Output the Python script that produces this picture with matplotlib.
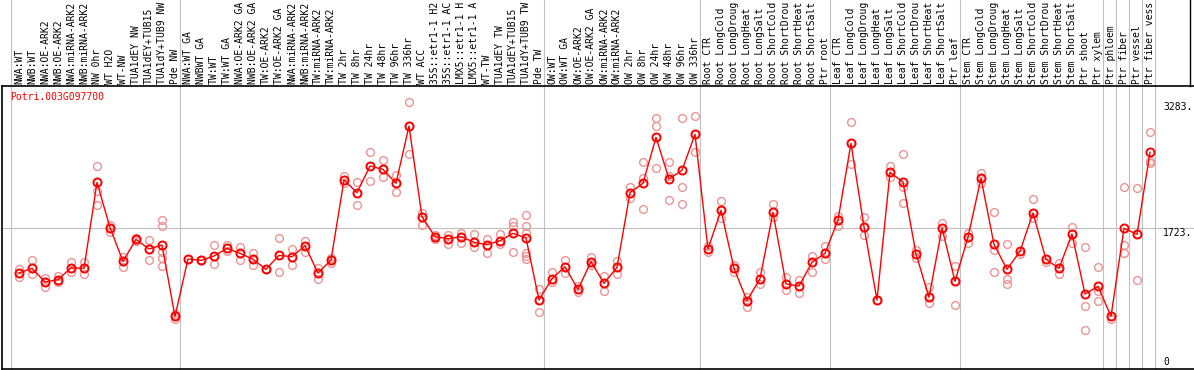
import matplotlib
matplotlib.use('Agg')
import matplotlib.pyplot as plt
from matplotlib.transforms import blended_transform_factory
from matplotlib.lines import Line2D

W, H = 1194, 370
plt.rcParams.update({'font.family': 'DejaVu Sans Mono', 'font.size': 7})

gene = 'Potri.003G097700'

labels = [
    'NWA:WT', 'NWB:WT', 'NWA:OE-ARK2', 'NWB:OE-ARK2', 'NWA:miRNA-ARK2', 'NWB:miRNA-ARK2',
    'NW 0hr', 'WT H2O', 'WT-NW', 'TUA1dEY NW', 'TUA1dEY+TUB15', 'TUA1dY+TUB9 NW', 'Pde NW',
    'NWA:WT GA', 'NWBWT GA', 'TW:WT', 'TW:WT GA', 'NWA:OE-ARK2 GA', 'NWB:OE-ARK2 GA',
    'TW:OE-ARK2', 'TW:OE-ARK2 GA', 'NWA:miRNA-ARK2', 'NWB:miRNA-ARK2', 'TW:miRNA-ARK2',
    'TW:miRNA-ARK2', 'TW 2hr', 'TW 8hr', 'TW 24hr', 'TW 48hr', 'TW 96hr', 'TW 336hr',
    'WT ACC', '35S::etr1-1 H2', '35S::etr1-1 AC', 'LMX5::etr1-1 H', 'LMX5::etr1-1 A',
    'WT-TW', 'TUA1dEY TW', 'TUA1dEY+TUB15', 'TUA1dY+TUB9 TW', 'Pde TW',
    'OW:WT', 'OW:WT GA', 'OW:OE-ARK2', 'OW:OE-ARK2 GA', 'OW:miRNA-ARK2', 'OW:miRNA-ARK2',
    'OW 2hr', 'OW 8hr', 'OW 24hr', 'OW 48hr', 'OW 96hr', 'OW 336hr',
    'Root CTR', 'Root LongCold', 'Root LongDroug', 'Root LongHeat', 'Root LongSalt',
    'Root ShortCold', 'Root ShortDrou', 'Root ShortHeat', 'Root ShortSalt', 'Ptr root',
    'Leaf CTR', 'Leaf LongCold', 'Leaf LongDroug', 'Leaf LongHeat', 'Leaf LongSalt',
    'Leaf ShortCold', 'Leaf ShortDrou', 'Leaf ShortHeat', 'Leaf ShortSalt', 'Ptr leaf',
    'Stem CTR', 'Stem LongCold', 'Stem LongDroug', 'Stem LongHeat', 'Stem LongSalt',
    'Stem ShortCold', 'Stem ShortDrou', 'Stem ShortHeat', 'Stem ShortSalt', 'Ptr shoot',
    'Ptr xylem', 'Ptr phloem', 'Ptr fiber', 'Ptr vessel', 'Ptr fiber vess',
]

means = [
    1165, 1223, 1054, 1082, 1231, 1223, 2289, 1727, 1310, 1582, 1463, 1512, 628,
    1339, 1322, 1376, 1471, 1409, 1335, 1211, 1384, 1367, 1504, 1165, 1326,
    2318, 2161, 2492, 2450, 2277, 2987, 1863, 1615, 1590, 1615, 1546, 1516, 1566, 1657, 1599, 830,
    1095, 1243, 963, 1306, 1037, 1236, 2161, 2277, 2847, 2331, 2438, 2885,
    1463, 1942, 1223, 822, 1095, 1917, 1029, 1004, 1298, 1409,
    1822, 2773, 1739, 830, 2413, 2293, 1401, 864, 1723, 1062,
    1611, 2339, 1521, 1211, 1434, 1909, 1335, 1223, 1649, 905,
    1000, 628, 1719, 1645, 2661,
]

replicates = [
    [1215, 1165, 1112], [1326, 1223, 1149], [1107, 1054, 988], [1124, 1082, 1050],
    [1298, 1231, 1178], [1298, 1223, 1149], [2496, 2180, 2004], [1760, 1727, 1677],
    [1367, 1310, 1243], [1566, 1582, 1600], [1574, 1463, 1322], [1822, 1751, 1429, 1355, 1248],
    [657, 628, 599], [1339, 1339], [1322, 1322], [1508, 1376, 1277], [1512, 1471, 1438],
    [1492, 1409, 1326], [1417, 1335, 1260], [1211, 1211], [1595, 1384, 1174],
    [1463, 1367, 1264], [1566, 1504, 1421], [1223, 1165, 1095], [1355, 1326, 1285],
    [2372, 2318, 2285], [2289, 2161, 2004], [2661, 2492, 2302], [2562, 2450, 2351],
    [2380, 2277, 2173], [3283, 2987, 2640], [1913, 1863, 1760], [1590, 1615, 1640],
    [1633, 1590, 1525], [1665, 1615, 1533], [1645, 1546, 1484], [1587, 1516, 1417],
    [1645, 1566, 1525], [1797, 1748, 1429], [1880, 1748, 1665, 1417, 1380, 1339],
    [970, 830, 678], [1174, 1095, 1054], [1322, 1243, 1169], [1004, 963, 926],
    [1367, 1306, 1264], [1128, 1037, 938], [1310, 1236, 1149], [2235, 2161, 2099],
    [2537, 2339, 1959], [3083, 2992, 2463], [2537, 2372, 2066], [3083, 2227, 2017],
    [3108, 2885, 2661], [1421, 1463, 1500], [2054, 1942, 1847], [1264, 1223, 1182],
    [864, 822, 740], [1178, 1095, 1029], [2017, 1917, 1863], [1112, 1029, 955],
    [1078, 1004, 921], [1380, 1298, 1174], [1500, 1409, 1343], [1876, 1822, 1748],
    [3033, 2773, 2516], [1859, 1739, 1636], [830, 830], [2492, 2413, 2351],
    [2640, 2227, 2029], [1450, 1401, 1347], [988, 864, 790], [1789, 1723, 1628],
    [1252, 1062, 769], [1657, 1611, 1533], [2400, 2339, 2277], [1917, 1454, 1178],
    [1525, 1095, 1033], [1434, 1401], [2083, 1909, 1851], [1335, 1306],
    [1293, 1223, 1157], [1735, 1649, 1537], [1484, 756, 459], [1240, 946, 818],
    [628, 599], [2227, 1512, 1409], [2215, 1645, 1074], [2909, 2557, 2525],
]

# group starts (index of first sample in each block) for the vertical separators
group_starts = [0, 13, 41, 53, 63, 73, 84, 85, 86, 87, 88]
ref_values = [3283, 1723, 0]

# ---- layout in pixels ----
X0, DX = 19, 13          # pixel x of first sample, spacing
AX_TOP, AX_BOT = 86, 368.5
Y0, SCALE = 367, 0.08067  # pixel y of value 0, px per unit

fig = plt.figure(figsize=(W / 100, H / 100), dpi=100)
ax = fig.add_axes([1.5 / W, 1 - AX_BOT / H, 1 - 1.5 / W, (AX_BOT - AX_TOP) / H])
ax.patch.set_visible(False)
ax.set_xlim((1.5 - X0) / DX, (W - X0) / DX)
ax.set_ylim((Y0 - AX_BOT) / SCALE, (Y0 - AX_TOP) / SCALE)
ax.set_xticks([])
ax.set_yticks([])
ax.spines['right'].set_visible(False)
for s in ['left', 'bottom', 'top']:
    ax.spines[s].set_linewidth(1.2)
    ax.spines[s].set_color('black')

grid_c = '#c0c0c0'
ax.axhline(ref_values[1], color=grid_c, lw=0.8, zorder=1)

trans = blended_transform_factory(ax.transData, fig.transFigure)
for g in group_starts:
    fig.add_artist(Line2D([g - 0.62, g - 0.62], [1 - AX_BOT / H, 1], transform=trans,
                          color=grid_c, lw=0.8, zorder=-1))
# right edge of label box
fig.add_artist(Line2D([1190 / W, 1190 / W], [1 - AX_TOP / H, 1], transform=fig.transFigure,
                      color='black', lw=1.0))

xs = list(range(len(means)))
rx, ry = [], []
for i, reps in enumerate(replicates):
    for v in reps:
        rx.append(i)
        ry.append(v)
ax.plot(rx, ry, linestyle='none', marker='o', ms=5.6, mfc='none', mec='#ec9494',
        mew=1.0, zorder=2)
ax.plot(xs, means, color='red', lw=1.0, zorder=3)
ax.plot(xs, means, linestyle='none', marker='o', ms=5.8, mfc='none', mec='red',
        mew=1.4, zorder=4)

# sample labels
ylab = 1 - 84 / H
for i, lab in enumerate(labels):
    fig.text(i, ylab, lab, transform=trans, rotation=90, ha='center', va='bottom',
             fontsize=7, color='black')

ax.text((10 - 1.5) / (W - 1.5), 1 - (97 - AX_TOP) / (AX_BOT - AX_TOP),
        gene, transform=ax.transAxes, color='red', fontsize=7, va='center', ha='left')

xr = (1163 - X0) / DX
ax.text(xr, ref_values[0], f'{ref_values[0]}.', va='top', ha='left', fontsize=7)
ax.text(xr, ref_values[1], f'{ref_values[1]}.', va='top', ha='left', fontsize=7)
ax.text(xr, ref_values[2], f'{ref_values[2]}', va='bottom', ha='left', fontsize=7)

fig.savefig('out.png', dpi=100, facecolor='white')
